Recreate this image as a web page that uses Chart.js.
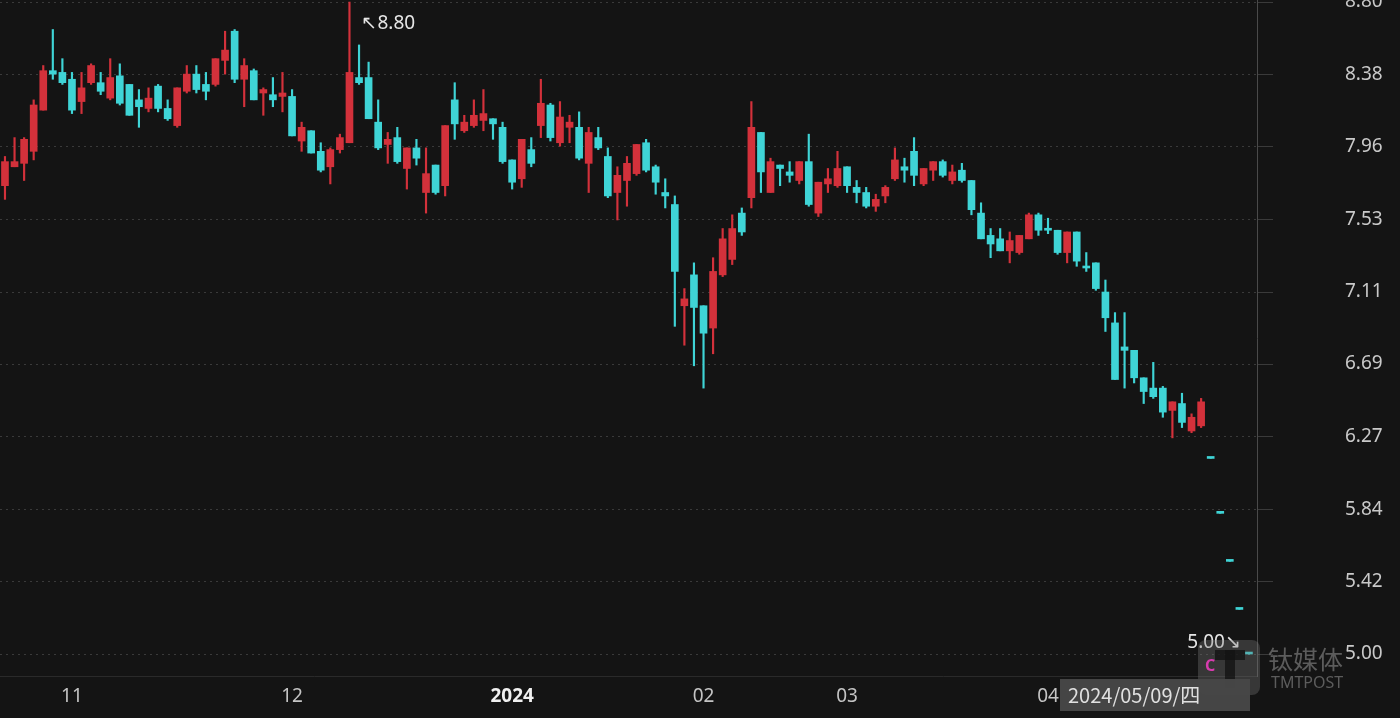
<!DOCTYPE html>
<html><head><meta charset="utf-8">
<script src="https://cdn.jsdelivr.net/npm/chart.js@4"></script>
<style>html,body{margin:0;padding:0;background:#141414;}canvas{display:block}</style>
</head><body>
<canvas id="c" width="1400" height="718"></canvas>
<script>
const opens  = [7.73,7.84,7.86,7.93,8.17,8.40,8.39,8.35,8.22,8.33,8.33,8.24,8.37,8.32,8.23,8.18,8.31,8.18,8.08,8.28,8.38,8.32,8.32,8.46,8.63,8.35,8.40,8.27,8.26,8.25,8.25,7.99,8.05,7.93,7.84,7.94,7.98,8.36,8.36,8.10,7.97,8.01,7.83,7.95,7.69,7.85,7.73,8.23,8.05,8.08,8.11,8.12,8.07,7.88,7.77,7.94,8.08,8.20,7.98,8.07,8.07,7.86,8.01,7.90,7.69,7.76,7.80,7.98,7.84,7.69,7.62,7.03,7.21,7.03,6.90,7.21,7.30,7.57,7.66,8.04,7.69,7.85,7.81,7.76,7.87,7.57,7.74,7.73,7.84,7.72,7.69,7.61,7.67,7.77,7.84,7.93,7.74,7.82,7.87,7.76,7.82,7.76,7.57,7.44,7.42,7.35,7.34,7.42,7.56,7.48,7.47,7.34,7.46,7.26,7.28,7.11,6.93,6.79,6.77,6.61,6.55,6.55,6.42,6.46,6.30,6.33,6.14,5.82,5.54,5.26,5.00];
const closes = [7.87,7.87,8.00,8.20,8.40,8.38,8.33,8.17,8.30,8.43,8.28,8.36,8.21,8.14,8.19,8.24,8.18,8.12,8.30,8.38,8.29,8.28,8.47,8.52,8.35,8.43,8.23,8.29,8.23,8.27,8.02,8.07,7.92,7.82,7.94,8.01,8.39,8.33,8.12,7.95,8.00,7.87,7.95,7.89,7.80,7.69,8.08,8.09,8.10,8.14,8.15,8.09,7.87,7.75,8.00,7.86,8.21,8.01,8.13,8.10,7.89,8.04,7.95,7.67,7.79,7.86,7.97,7.82,7.75,7.67,7.23,7.07,7.02,6.87,7.23,7.42,7.48,7.46,8.07,7.81,7.87,7.83,7.79,7.87,7.62,7.75,7.77,7.83,7.73,7.69,7.61,7.65,7.72,7.88,7.82,7.79,7.83,7.87,7.79,7.81,7.76,7.59,7.42,7.39,7.35,7.41,7.44,7.56,7.47,7.47,7.34,7.46,7.29,7.25,7.13,6.96,6.60,6.77,6.61,6.53,6.50,6.41,6.47,6.35,6.38,6.47,6.14,5.82,5.54,5.26,5.00];
const highs  = [7.90,8.01,8.01,8.23,8.43,8.64,8.47,8.39,8.39,8.44,8.39,8.47,8.44,8.32,8.29,8.30,8.32,8.23,8.30,8.43,8.43,8.39,8.47,8.63,8.64,8.47,8.41,8.30,8.36,8.39,8.29,8.10,8.05,7.98,7.95,8.03,8.80,8.55,8.45,8.23,8.04,8.07,7.95,8.00,7.95,7.85,8.08,8.33,8.14,8.23,8.29,8.12,8.10,7.88,8.00,8.01,8.35,8.21,8.22,8.14,8.16,8.07,8.07,7.95,7.84,7.90,7.97,8.00,7.85,7.77,7.67,7.13,7.28,7.03,7.31,7.48,7.56,7.60,8.22,8.04,7.89,7.85,7.87,7.87,8.03,7.75,7.83,7.93,7.84,7.76,7.72,7.68,7.73,7.95,7.89,8.01,7.83,7.87,7.88,7.85,7.86,7.76,7.63,7.48,7.48,7.46,7.44,7.57,7.57,7.54,7.47,7.46,7.46,7.34,7.28,7.18,6.99,6.99,6.77,6.61,6.70,6.56,6.47,6.52,6.40,6.49,6.14,5.82,5.54,5.26,5.00];
const lows   = [7.65,7.84,7.76,7.88,8.17,8.35,8.32,8.15,8.15,8.32,8.26,8.23,8.20,8.14,8.07,8.16,8.16,8.11,8.07,8.27,8.27,8.23,8.31,8.38,8.33,8.19,8.23,8.14,8.19,8.16,8.02,7.93,7.92,7.81,7.74,7.92,7.98,8.32,8.12,7.94,7.86,7.86,7.71,7.85,7.57,7.68,7.67,8.00,8.04,8.07,8.05,8.00,7.86,7.71,7.72,7.84,8.01,7.99,7.96,7.98,7.88,7.69,7.94,7.66,7.53,7.61,7.79,7.81,7.68,7.60,6.91,6.80,6.68,6.55,6.75,7.20,7.27,7.44,7.60,7.69,7.69,7.73,7.75,7.74,7.61,7.55,7.69,7.72,7.69,7.63,7.60,7.58,7.63,7.76,7.75,7.73,7.73,7.76,7.78,7.74,7.75,7.56,7.42,7.31,7.35,7.28,7.33,7.42,7.44,7.45,7.33,7.28,7.26,7.23,7.12,6.88,6.60,6.55,6.58,6.46,6.49,6.38,6.26,6.32,6.29,6.32,6.14,5.82,5.54,5.26,5.00];
const yTickLabels = [8.80,8.38,7.96,7.53,7.11,6.69,6.27,5.84,5.42,5.00];
const monthLabels = ['11','12','2024','02','03','04'];
const monthIndex  = [7,30,53,73,88,109];
const highNote = '↖8.80';
const lowNote = '5.00↘';
const dateLabel = '2024/05/09/四';

const RED='#d3313b', CYAN='#3fd4d6';
const idx = opens.map((_,i)=>i);
const col = ctx => { const i=ctx.dataIndex; return closes[i]>=opens[i] && i<126 ? RED : CYAN; };

const overlay = {
  id:'overlay',
  afterDraw(chart){
    const c=chart.ctx, xs=chart.scales.x, ys=chart.scales.y;
    c.save();
    c.font='19px "Noto Sans", sans-serif'; c.fillStyle='#e6e6e6'; c.textBaseline='middle';
    c.textAlign='left';
    c.fillText(highNote, xs.getPixelForValue(36)+12, ys.getPixelForValue(highs[36])+22);
    c.textAlign='right';
    c.fillText(lowNote, xs.getPixelForValue(130)-8, ys.getPixelForValue(lows[130])-11);
    c.fillStyle='rgba(120,120,120,0.35)';
    c.beginPath(); c.roundRect(1198,640,62,55,8); c.fill();
    c.fillStyle='rgba(20,20,20,0.8)'; c.fillRect(1215,650,30,10); c.fillRect(1225,650,10,38);
    c.fillStyle='#d63cae'; c.font='bold 16px "Noto Sans", sans-serif'; c.textAlign='left';
    c.fillText('C',1205,666);
    c.fillStyle='rgba(140,140,140,0.6)';
    c.font='25px "Noto Sans CJK SC", sans-serif'; c.fillText('钛媒体',1268,659);
    c.font='16px "Noto Sans", sans-serif'; c.fillText('TMTPOST',1271,683);
    c.fillStyle='rgba(72,72,72,0.95)'; c.fillRect(1060,679,190,32);
    c.fillStyle='#e0e0e0'; c.font='20px "Noto Sans CJK SC", sans-serif'; c.textAlign='left';
    c.fillText(dateLabel,1068,695);
    c.restore();
  }
};

new Chart(document.getElementById('c'),{
  type:'bar',
  data:{labels:idx,datasets:[
    {data:idx.map(i=>({x:i,y:[lows[i],highs[i]]})),backgroundColor:col,barThickness:1.5,grouped:false,order:2},
    {data:idx.map(i=>({x:i,y:[Math.min(opens[i],closes[i]),Math.max(opens[i],closes[i])]})),backgroundColor:col,barThickness:7,minBarLength:2,grouped:false,order:1}
  ]},
  options:{
    responsive:false,animation:false,
    layout:{padding:0},
    plugins:{legend:{display:false},tooltip:{enabled:false}},
    scales:{
      x:{type:'linear',min:-0.52,max:130.84,offset:false,
        grid:{display:false},border:{color:'#2a2a2a'},
        afterBuildTicks:s=>{s.ticks=monthIndex.map(v=>({value:v}));},
        afterFit:s=>{s.height=42;s.paddingLeft=0;s.paddingRight=0;},
        ticks:{autoSkip:false,maxRotation:0,padding:1,
          callback:v=>monthLabels[monthIndex.indexOf(v)],
          color:ctx=>ctx.tick&&ctx.tick.value===53?'#f0f0f0':'#c4c4c4',
          font:ctx=>({family:'"Noto Sans", sans-serif',size:19,weight:ctx.tick&&ctx.tick.value===53?'bold':'normal'})}},
      y:{position:'right',min:4.872,max:8.812,
        afterBuildTicks:s=>{s.ticks=yTickLabels.map(v=>({value:v}));},
        afterFit:s=>{s.width=143;s.paddingTop=0;s.paddingBottom=0;},
        grid:{color:'#3a3a3a',tickLength:16,tickColor:'#3a3a3a',tickBorderDash:[]},
        border:{color:'#4a4a4a',dash:[2,4]},
        ticks:{padding:72,color:'#c9c9c9',font:{family:'"Noto Sans", sans-serif',size:19},callback:v=>v.toFixed(2)}}
    }
  },
  plugins:[overlay]
});
</script>
</body></html>
